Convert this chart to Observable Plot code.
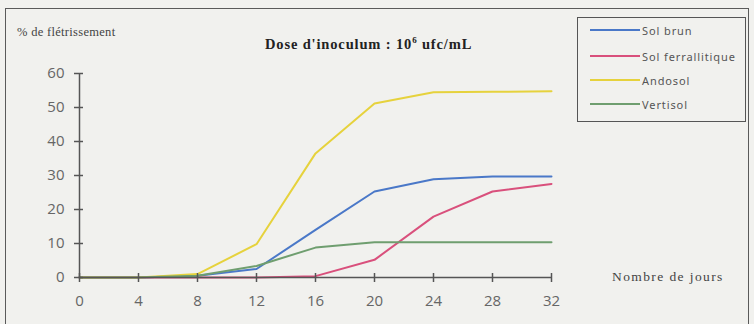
<!DOCTYPE html>
<html>
<head>
<meta charset="utf-8">
<script src="https://cdn.jsdelivr.net/npm/d3@7"></script>
<script src="https://cdn.jsdelivr.net/npm/@observablehq/plot@0.6"></script>
<style>
  html, body { margin: 0; padding: 0; background: #f1f1ee; }
  #wrap { position: relative; width: 754px; height: 324px; overflow: hidden; background: #f1f1ee; }
  #frame { position: absolute; left: 5px; top: 8px; width: 744px; height: 320px; border: 1.5px solid #5a5a5a; box-sizing: border-box; }
  #chart { position: absolute; left: 0; top: 0; }
  .lbl { position: absolute; font-family: "Liberation Serif", "DejaVu Serif", serif; color: #444; white-space: nowrap; }
  #ytitle { left: 17px; top: 25px; font-size: 12.5px; letter-spacing: 0.3px; }
  #title { left: 265px; top: 35px; font-size: 14.5px; font-weight: bold; color: #222; letter-spacing: 0.85px; }
  #title sup { font-size: 9px; }
  #xtitle { left: 612px; top: 269px; font-size: 13.5px; letter-spacing: 1.4px; }
  #legend { position: absolute; left: 577px; top: 17px; width: 169px; height: 105px; border: 1.5px solid #555; box-sizing: border-box; font-family: "Noto Sans", "DejaVu Sans", sans-serif; font-size: 11px; color: #555; letter-spacing: 0.9px; }
  .row { position: absolute; left: 12px; height: 14px; display: flex; align-items: center; }
  .sw { width: 50px; height: 2px; margin-right: 2px; }
</style>
</head>
<body>
<div id="wrap">
  <div id="frame"></div>
  <div id="chart"></div>
  <div class="lbl" id="ytitle">% de flétrissement</div>
  <div class="lbl" id="title">Dose d'inoculum : 10<sup>6</sup> ufc/mL</div>
  <div class="lbl" id="xtitle">Nombre de jours</div>
  <div id="legend"></div>
</div>
<script>
const days = [0, 4, 8, 12, 16, 20, 24, 28, 32];
const solBrun = [0, 0, 0.5, 2.5, 14, 25.3, 28.9, 29.7, 29.7];
const solFerrallitique = [0, 0, 0, 0, 0.4, 5.2, 17.9, 25.3, 27.5];
const andosol = [0, 0, 1, 9.8, 36.5, 51.2, 54.5, 54.6, 54.8];
const vertisol = [0, 0, 0.5, 3.4, 8.8, 10.4, 10.4, 10.4, 10.4];
const seriesNames = ["Sol brun", "Sol ferrallitique", "Andosol", "Vertisol"];
const seriesColors = ["#4a78c8", "#d9507c", "#e6d23c", "#6f9e6f"];
const xTicks = [0, 4, 8, 12, 16, 20, 24, 28, 32];
const yTicks = [0, 10, 20, 30, 40, 50, 60];

const seriesValues = [solBrun, solFerrallitique, andosol, vertisol];
const data = seriesNames.flatMap((name, i) =>
  days.map((d, j) => ({ series: name, day: d, value: seriesValues[i][j] }))
);

const tickFont = { fontFamily: "'Open Sans', 'Noto Sans', sans-serif", fontSize: 15 };

const chart = Plot.plot({
  width: 754,
  height: 324,
  marginLeft: 79,
  marginRight: 203,
  marginTop: 73,
  marginBottom: 47,
  style: { background: "transparent", overflow: "visible" },
  x: { domain: [0, 32] },
  y: { domain: [0, 60] },
  color: { domain: seriesNames, range: seriesColors },
  marks: [
    Plot.lineY(data, { x: "day", y: "value", stroke: "series", strokeWidth: 2 }),
    Plot.ruleX([0], { stroke: "#555", strokeWidth: 1.5 }),
    Plot.ruleY([0], { stroke: "#555", strokeWidth: 1.5 }),
    Plot.axisY(yTicks, { ticks: yTicks, tickSize: 9, dx: 4, tickPadding: 10, stroke: "#555", strokeWidth: 1.5, label: null, ...tickFont, fill: "#666" }),
    Plot.axisX(xTicks, { ticks: xTicks, tickSize: 9, dy: -4, tickPadding: 13, stroke: "#555", strokeWidth: 1.5, label: null, ...tickFont, fill: "#666" })
  ]
});
document.getElementById("chart").appendChild(chart);

const legend = document.getElementById("legend");
const rowTops = [5, 31, 55, 79];
seriesNames.forEach((name, i) => {
  const row = document.createElement("div");
  row.className = "row";
  row.style.top = rowTops[i] + "px";
  const sw = document.createElement("div");
  sw.className = "sw";
  sw.style.background = seriesColors[i];
  const t = document.createElement("span");
  t.textContent = name;
  row.appendChild(sw);
  row.appendChild(t);
  legend.appendChild(row);
});
</script>
</body>
</html>
